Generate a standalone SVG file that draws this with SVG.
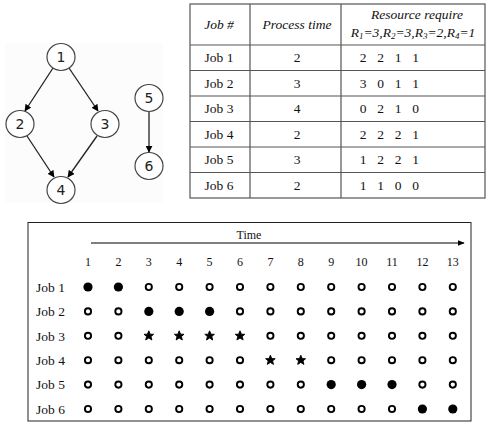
<svg xmlns="http://www.w3.org/2000/svg" xmlns:xlink="http://www.w3.org/1999/xlink" width="487" height="425" viewBox="0 0 487 425">
  <style>
    text { font-family: "Liberation Serif", "DejaVu Serif", serif; fill: #111; }
    .node ellipse { fill: #fff; stroke: #444; stroke-width: 1.2; }
    .node text { font-family: "DejaVu Sans", "Liberation Sans", sans-serif; font-size: 14px; text-anchor: middle; fill: #222; }
    .edge { stroke: #222; stroke-width: 1.3; fill: none; marker-end: url(#arrow); }
    .grid { stroke: #555; stroke-width: 1.2; fill: none; }
    .cell { font-size: 13.5px; text-anchor: middle; }
    .head { font-size: 13.5px; font-style: italic; text-anchor: middle; }
    .lbl { font-size: 13.5px; }
    .num { font-size: 12px; text-anchor: middle; }
    .open { fill: #fff; stroke: #000; stroke-width: 1.9; }
    .full { fill: #000; }
  </style>
  <defs>
    <marker id="arrow" viewBox="0 0 10 10" refX="9" refY="5" markerWidth="7" markerHeight="7" markerUnits="userSpaceOnUse" orient="auto">
      <path d="M0,0 L10,5 L0,10 z" fill="#000"/>
    </marker>
    <marker id="axisArrow" viewBox="0 0 10 10" refX="9" refY="5" markerWidth="7" markerHeight="7" markerUnits="userSpaceOnUse" orient="auto">
      <path d="M0,1 L10,5 L0,9 z" fill="#000"/>
    </marker>
    <circle id="o" r="3.1" class="open"/>
    <circle id="f" r="4.6" class="full"/>
    <polygon id="s" fill="#000" stroke="#000" stroke-width="0.9" stroke-linejoin="round"
      points="0,-5 1.4,-1.6 4.8,-1.5 2.2,0.7 3.1,4.2 0,2.2 -3.1,4.2 -2.2,0.7 -4.8,-1.5 -1.4,-1.6"/>
  </defs>

  <rect width="487" height="425" fill="#fff"/>

  <!-- precedence graph -->
  <rect x="5" y="43" width="158" height="160" fill="#fcfcfc"/>
  <g id="connectors">
    <line class="edge" x1="53" y1="68" x2="25" y2="111"/>
    <line class="edge" x1="69" y1="68" x2="98" y2="111"/>
    <line class="edge" x1="27" y1="136" x2="54" y2="177"/>
    <line class="edge" x1="97" y1="136" x2="68" y2="177"/>
    <line class="edge" x1="149" y1="112" x2="149" y2="152"/>
  </g>
  <g id="n1" class="node"><ellipse cx="61" cy="57" rx="14" ry="13.5"/><text x="61" y="62">1</text></g>
  <g id="n2" class="node"><ellipse cx="20" cy="124" rx="14" ry="13.5"/><text x="20" y="129">2</text></g>
  <g id="n3" class="node"><ellipse cx="105" cy="124" rx="14" ry="13.5"/><text x="105" y="129">3</text></g>
  <g id="n4" class="node"><ellipse cx="61" cy="190" rx="14" ry="13.5"/><text x="61" y="195">4</text></g>
  <g id="n5" class="node"><ellipse cx="149" cy="98" rx="14" ry="13.5"/><text x="149" y="103">5</text></g>
  <g id="n6" class="node"><ellipse cx="149" cy="166" rx="14" ry="13.5"/><text x="149" y="171">6</text></g>

  <!-- job table -->
  <g id="table">
    <rect class="grid" x="190" y="4" width="295" height="194"/>
    <path class="grid" d="M250,4 V198 M341,4 V198 M190,45 H485 M190,70.5 H485 M190,96 H485 M190,121.5 H485 M190,147 H485 M190,172.5 H485"/>
    <text class="head" x="219" y="29">Job #</text>
    <text class="head" x="297" y="29">Process time</text>
    <text class="head" x="417" y="19">Resource require</text>
    <text class="head" x="413" y="37">R<tspan font-size="9" dy="2">1</tspan><tspan dy="-2">=3,R</tspan><tspan font-size="9" dy="2">2</tspan><tspan dy="-2">=3,R</tspan><tspan font-size="9" dy="2">3</tspan><tspan dy="-2">=2,R</tspan><tspan font-size="9" dy="2">4</tspan><tspan dy="-2">=1</tspan></text>

    <g class="cell">
      <text x="219" y="62">Job 1</text><text x="297" y="62">2</text><text x="363 380.5 398 415.5" y="62">2211</text>
      <text x="219" y="88">Job 2</text><text x="297" y="88">3</text><text x="363 380.5 398 415.5" y="88">3011</text>
      <text x="219" y="113">Job 3</text><text x="297" y="113">4</text><text x="363 380.5 398 415.5" y="113">0210</text>
      <text x="219" y="139">Job 4</text><text x="297" y="139">2</text><text x="363 380.5 398 415.5" y="139">2221</text>
      <text x="219" y="164">Job 5</text><text x="297" y="164">3</text><text x="363 380.5 398 415.5" y="164">1221</text>
      <text x="219" y="190">Job 6</text><text x="297" y="190">2</text><text x="363 380.5 398 415.5" y="190">1100</text>
    </g>
  </g>

  <!-- schedule chart -->
  <g id="schedule">
    <rect x="28" y="222.5" width="443" height="198.5" fill="#fff" stroke="#222" stroke-width="1"/>
    <text x="249" y="239" font-size="12" text-anchor="middle">Time</text>
    <line x1="91" y1="243" x2="464" y2="243" stroke="#000" stroke-width="1" marker-end="url(#axisArrow)"/>
    <g class="num">
      <text x="88" y="266">1</text><text x="118.4" y="266">2</text><text x="148.8" y="266">3</text>
      <text x="179.2" y="266">4</text><text x="209.6" y="266">5</text><text x="240" y="266">6</text>
      <text x="270.4" y="266">7</text><text x="300.8" y="266">8</text><text x="331.2" y="266">9</text>
      <text x="361.6" y="266">10</text><text x="392" y="266">11</text><text x="422.4" y="266">12</text>
      <text x="452.8" y="266">13</text>
    </g>
    <g class="lbl">
      <text x="36" y="291.5">Job 1</text>
      <text x="36" y="316">Job 2</text>
      <text x="36" y="340.5">Job 3</text>
      <text x="36" y="365">Job 4</text>
      <text x="36" y="389">Job 5</text>
      <text x="36" y="413.5">Job 6</text>
    </g>
    <!-- Job 1 -->
    <g transform="translate(0,287)">
      <use xlink:href="#f" x="88"/><use xlink:href="#f" x="118.4"/><use xlink:href="#o" x="148.8"/><use xlink:href="#o" x="179.2"/><use xlink:href="#o" x="209.6"/><use xlink:href="#o" x="240"/><use xlink:href="#o" x="270.4"/><use xlink:href="#o" x="300.8"/><use xlink:href="#o" x="331.2"/><use xlink:href="#o" x="361.6"/><use xlink:href="#o" x="392"/><use xlink:href="#o" x="422.4"/><use xlink:href="#o" x="452.8"/>
    </g>
    <!-- Job 2 -->
    <g transform="translate(0,311.4)">
      <use xlink:href="#o" x="88"/><use xlink:href="#o" x="118.4"/><use xlink:href="#f" x="148.8"/><use xlink:href="#f" x="179.2"/><use xlink:href="#f" x="209.6"/><use xlink:href="#o" x="240"/><use xlink:href="#o" x="270.4"/><use xlink:href="#o" x="300.8"/><use xlink:href="#o" x="331.2"/><use xlink:href="#o" x="361.6"/><use xlink:href="#o" x="392"/><use xlink:href="#o" x="422.4"/><use xlink:href="#o" x="452.8"/>
    </g>
    <!-- Job 3 -->
    <g transform="translate(0,335.8)">
      <use xlink:href="#o" x="88"/><use xlink:href="#o" x="118.4"/><use xlink:href="#s" x="148.8"/><use xlink:href="#s" x="179.2"/><use xlink:href="#s" x="209.6"/><use xlink:href="#s" x="240"/><use xlink:href="#o" x="270.4"/><use xlink:href="#o" x="300.8"/><use xlink:href="#o" x="331.2"/><use xlink:href="#o" x="361.6"/><use xlink:href="#o" x="392"/><use xlink:href="#o" x="422.4"/><use xlink:href="#o" x="452.8"/>
    </g>
    <!-- Job 4 -->
    <g transform="translate(0,360.2)">
      <use xlink:href="#o" x="88"/><use xlink:href="#o" x="118.4"/><use xlink:href="#o" x="148.8"/><use xlink:href="#o" x="179.2"/><use xlink:href="#o" x="209.6"/><use xlink:href="#o" x="240"/><use xlink:href="#s" x="270.4"/><use xlink:href="#s" x="300.8"/><use xlink:href="#o" x="331.2"/><use xlink:href="#o" x="361.6"/><use xlink:href="#o" x="392"/><use xlink:href="#o" x="422.4"/><use xlink:href="#o" x="452.8"/>
    </g>
    <!-- Job 5 -->
    <g transform="translate(0,384.6)">
      <use xlink:href="#o" x="88"/><use xlink:href="#o" x="118.4"/><use xlink:href="#o" x="148.8"/><use xlink:href="#o" x="179.2"/><use xlink:href="#o" x="209.6"/><use xlink:href="#o" x="240"/><use xlink:href="#o" x="270.4"/><use xlink:href="#o" x="300.8"/><use xlink:href="#f" x="331.2"/><use xlink:href="#f" x="361.6"/><use xlink:href="#f" x="392"/><use xlink:href="#o" x="422.4"/><use xlink:href="#o" x="452.8"/>
    </g>
    <!-- Job 6 -->
    <g transform="translate(0,409)">
      <use xlink:href="#o" x="88"/><use xlink:href="#o" x="118.4"/><use xlink:href="#o" x="148.8"/><use xlink:href="#o" x="179.2"/><use xlink:href="#o" x="209.6"/><use xlink:href="#o" x="240"/><use xlink:href="#o" x="270.4"/><use xlink:href="#o" x="300.8"/><use xlink:href="#o" x="331.2"/><use xlink:href="#o" x="361.6"/><use xlink:href="#o" x="392"/><use xlink:href="#f" x="422.4"/><use xlink:href="#f" x="452.8"/>
    </g>
  </g>
</svg>
